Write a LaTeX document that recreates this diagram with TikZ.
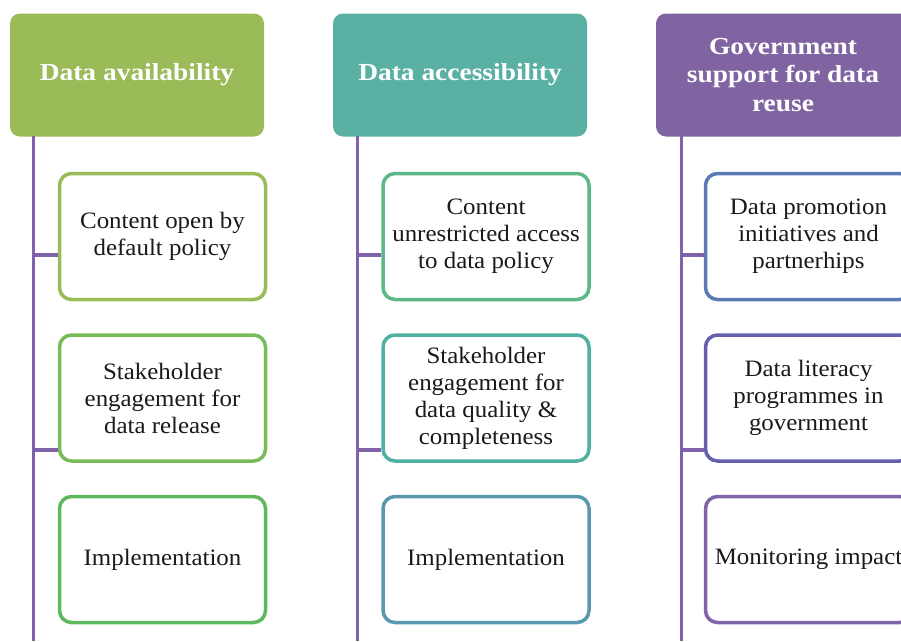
\documentclass[tikz,border=0pt]{standalone}
\usepackage{fontspec}
\setmainfont{Liberation Serif}[FakeStretch=1.06]
\newfontfamily\hdrfont{Liberation Serif}[FakeStretch=1.12]
\definecolor{hgreen}{HTML}{9BBB59}
\definecolor{hteal}{HTML}{5BB0A4}
\definecolor{hpurple}{HTML}{8064A2}
\definecolor{vline}{HTML}{8062AA}
\definecolor{b11}{HTML}{9BBB59}
\definecolor{b12}{HTML}{78BC5A}
\definecolor{b13}{HTML}{5DB85E}
\definecolor{b21}{HTML}{5DB888}
\definecolor{b22}{HTML}{50B0A2}
\definecolor{b23}{HTML}{5A98B0}
\definecolor{b31}{HTML}{5A7AB6}
\definecolor{b32}{HTML}{6460AE}
\definecolor{b33}{HTML}{8064A8}
\definecolor{txt}{HTML}{1A1A1A}
\tikzset{
  hdr/.style={rounded corners=10pt, minimum width=254pt, minimum height=123pt,
    text=white, font=\hdrfont\fontsize{24.5}{28.5}\selectfont\bfseries, align=center, inner sep=0pt},
  child/.style={draw, line width=3.5pt, rounded corners=12pt, fill=white,
    minimum width=206pt, minimum height=126pt, text=txt,
    font=\fontsize{23.5}{27}\selectfont, align=center, inner sep=0pt},
  trunk/.style={draw=vline, line width=3.4pt},
}
\begin{document}
\begin{tikzpicture}[x=1pt,y=1pt]
\useasboundingbox (0,0) rectangle (901,-641);
\clip (0,0) rectangle (901,-641);
% headers
\node[hdr, fill=hgreen]  (h1) at (137,-75) {Data availability};
\node[hdr, fill=hteal]   (h2) at (460,-75) {Data accessibility};
\node[hdr, fill=hpurple] (h3) at (783,-75) {Government\\support for data\\reuse};
% children
\node[child, draw=b11] (c11) at (162.5,-236.5) {Content open by\\default policy};
\node[child, draw=b12] (c12) at (162.5,-398) {Stakeholder\\engagement for\\data release};
\node[child, draw=b13] (c13) at (162.5,-559.5) {Implementation};
\node[child, draw=b21] (c21) at (486,-236.5) {Content\\unrestricted access\\to data policy};
\node[child, draw=b22] (c22) at (486,-398) {Stakeholder\\engagement for\\data quality \&\\completeness};
\node[child, draw=b23] (c23) at (486,-559.5) {Implementation};
\node[child, draw=b31] (c31) at (808.5,-236.5) {Data promotion\\initiatives and\\partnerhips};
\node[child, draw=b32] (c32) at (808.5,-398) {Data literacy\\programmes in\\government};
\node[child, draw=b33] (c33) at (808.5,-559.5) {Monitoring impact};
% trunks
\coordinate (t1) at (33.5,-136);
\coordinate (t2) at (357.5,-136);
\coordinate (t3) at (681.5,-136);
\coordinate (e1) at (33.5,-641);
\coordinate (e2) at (357.5,-641);
\coordinate (e3) at (681.5,-641);
\draw[trunk] (t1) -- (e1);
\draw[trunk] (t2) -- (e2);
\draw[trunk] (t3) -- (e3);
% junctions
\coordinate (j11) at (33.5,-255);
\coordinate (j12) at (33.5,-450);
\coordinate (j21) at (357.5,-255);
\coordinate (j22) at (357.5,-450);
\coordinate (j31) at (681.5,-255);
\coordinate (j32) at (681.5,-450);
\draw[trunk] (j11) -- (j11 -| c11.west);
\draw[trunk] (j12) -- (j12 -| c12.west);
\draw[trunk] (j21) -- (j21 -| c21.west);
\draw[trunk] (j22) -- (j22 -| c22.west);
\draw[trunk] (j31) -- (j31 -| c31.west);
\draw[trunk] (j32) -- (j32 -| c32.west);
\end{tikzpicture}
\end{document}
